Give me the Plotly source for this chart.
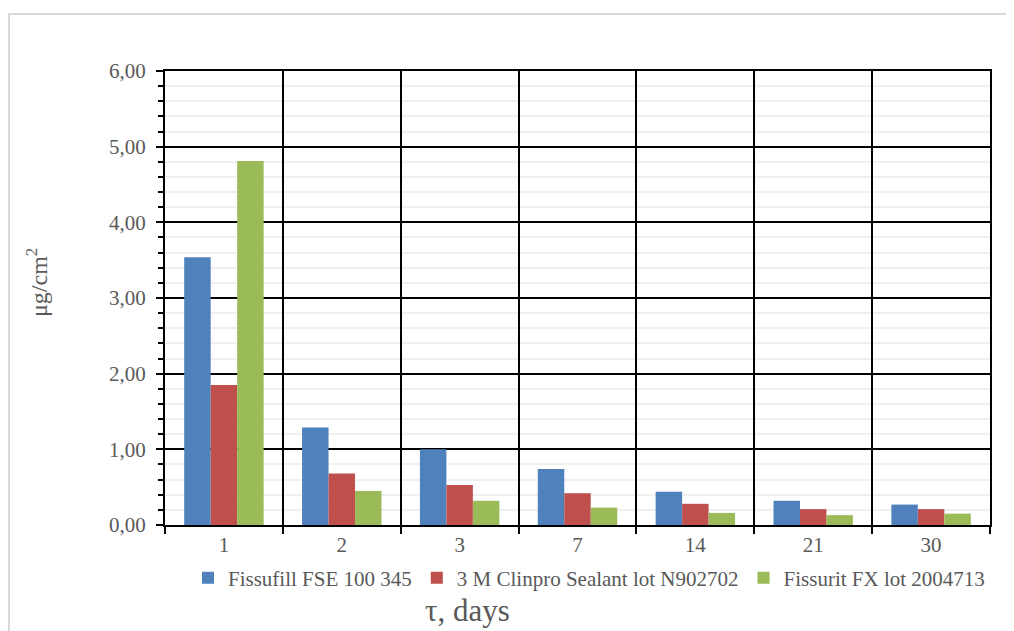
import plotly.graph_objects as go

days = ["1", "2", "3", "7", "14", "21", "30"]
fissufill = [3.54, 1.29, 1.00, 0.74, 0.44, 0.32, 0.27]
clinpro = [1.85, 0.68, 0.53, 0.42, 0.28, 0.21, 0.21]
fissurit = [4.81, 0.45, 0.32, 0.23, 0.16, 0.13, 0.15]
series_names = ["Fissufill FSE 100 345", "3 M Clinpro Sealant lot N902702", "Fissurit FX lot 2004713"]
colors = ["#4F81BD", "#C0504D", "#9BBB59"]

FONT = "Liberation Serif, Times New Roman, serif"
GRAY = "#595959"

fig = go.Figure()
for name, vals, col in zip(series_names, [fissufill, clinpro, fissurit], colors):
    fig.add_trace(go.Bar(x=days, y=vals, name=name, marker=dict(color=col, line=dict(width=0))))

OFF = 8  # page body margin
W, H = 1014 - OFF, 631 - OFF
L, T = 165 - OFF, 71 - OFF
pw = 825
ph = 454
R = W - L - pw
B = H - T - ph

def px_x(p):
    return (p - OFF - L) / pw

def px_y(p):
    return (T + ph - (p - OFF)) / ph

fig.update_layout(
    width=W, height=H,
    margin=dict(l=L, r=R, t=T, b=B),
    paper_bgcolor="white", plot_bgcolor="white",
    separators=", ",
    barmode="group", bargap=0.326, bargroupgap=0,
    font=dict(family=FONT, color=GRAY, size=21),
    legend=dict(orientation="h", x=px_x(188), xanchor="left", y=px_y(578), yanchor="middle",
                font=dict(family=FONT, size=21, color=GRAY), bgcolor="rgba(0,0,0,0)",
                itemwidth=30, traceorder="normal"),
    xaxis=dict(type="category", categoryorder="array", categoryarray=days,
               range=[-0.5, len(days) - 0.5], tickson="boundaries",
               showgrid=True, gridcolor="black", gridwidth=2,
               showline=True, linecolor="black", linewidth=2, mirror=True,
               ticks="outside", ticklen=7, tickwidth=2, tickcolor="black",
               tickfont=dict(family=FONT, size=21, color=GRAY), zeroline=False),
    xaxis2=dict(overlaying="x", anchor="y", side="bottom", range=[-0.5, len(days) - 0.5],
                tickvals=list(range(len(days))), showticklabels=False,
                showgrid=True, gridcolor="#F0F0F0", gridwidth=2,
                ticks="inside", ticklen=6, tickwidth=2, tickcolor="black",
                showline=False, zeroline=False),
    yaxis=dict(range=[0, 6], dtick=1, tick0=0, tickformat=".2f",
               showgrid=True, gridcolor="black", gridwidth=2,
               showline=True, linecolor="black", linewidth=2, mirror=True,
               ticks="outside", ticklen=7, tickwidth=2, tickcolor="black",
               ticklabelstandoff=6,
               tickfont=dict(family=FONT, size=21, color=GRAY), zeroline=False,
               minor=dict(dtick=0.2, showgrid=True, gridcolor="#F0F0F0", gridwidth=2,
                          ticks="outside", ticklen=5, tickwidth=2, tickcolor="black")),
    yaxis2=dict(overlaying="y", anchor="x", side="left", range=[0, 6],
                tickvals=[i * 0.2 for i in range(31)], showticklabels=False, showgrid=False,
                ticks="inside", ticklen=5, tickwidth=2, tickcolor="black",
                showline=False, zeroline=False),
    shapes=[dict(type="rect", xref="paper", yref="paper",
                 x0=px_x(9), x1=px_x(1030), y0=px_y(14), y1=px_y(650),
                 line=dict(color="#D9D9D9", width=2), fillcolor="rgba(0,0,0,0)", layer="below")],
    annotations=[
        dict(text="τ, days", xref="paper", yref="paper", x=px_x(467), y=px_y(610),
             xanchor="center", yanchor="middle", showarrow=False,
             font=dict(family=FONT, size=31, color=GRAY)),
        dict(text="μg/cm<sup>2</sup>", xref="paper", yref="paper", x=px_x(37), y=px_y(283),
             xanchor="center", yanchor="middle", showarrow=False, textangle=-90,
             font=dict(family=FONT, size=24, color=GRAY)),
    ],
)

fig.write_html("out.html")
